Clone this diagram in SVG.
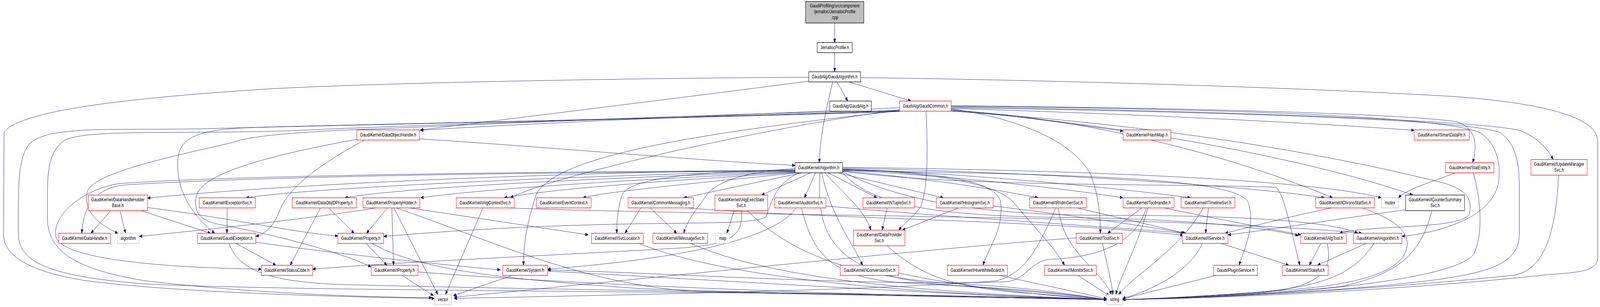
<svg xmlns="http://www.w3.org/2000/svg" width="5492" height="787" viewBox="0 0 5492 787" preserveAspectRatio="none">
<defs>
<marker id="ah" markerWidth="10" markerHeight="8" refX="10" refY="4" orient="auto" markerUnits="userSpaceOnUse">
<path d="M0,0 L10,4 L0,8 z" fill="#191970" stroke="#191970" stroke-width="1"/>
</marker>
<style>
svg{width:100vw;height:100vh}
rect{fill:#fff;stroke-width:1.3}
.r{stroke:#ff0000}
.k{stroke:#000}
.g{stroke:#bfbfbf}
.gf{fill:#bfbfbf;stroke:#000}
text{font-family:"Liberation Sans",Arial,Helvetica,sans-serif;font-size:13px;text-anchor:middle;fill:#000}
#edges path{fill:none;stroke:#191970;stroke-width:1;marker-end:url(#ah)}
</style>
</defs>
<rect x="0" y="0" width="5492" height="787" style="fill:#fff;stroke:none"/>
<g id="edges">
<path d="M2865,59 L2865,109"/>
<path d="M2865,135 L2865,184"/>
<path d="M2873,210 L2910,259"/>
<path d="M2914,210 L3127,259"/>
<path d="M2858,210 C2838,275 2816,340 2812,417"/>
<path d="M2776,198 C2200,200 1300,212 920,228 C500,248 60,280 14,340 L12,600 C10,660 120,700 300,720 C600,750 1200,762 1491,765"/>
<path d="M2954,199 C3600,205 4500,225 5000,248 C5300,265 5480,300 5484,360 L5484,660 C5484,700 5400,698 5300,705 C5000,730 4400,762 3853,768"/>
<path d="M2776,208 C2400,245 1800,300 1443,333"/>
<path d="M3088,276 C2700,290 1900,312 1443,334"/>
<path d="M3265,281 C3500,298 3700,320 3855,336"/>
<path d="M3265,278 C3800,290 4400,310 4854,334"/>
<path d="M3265,271 C4000,276 4800,290 5000,312 C5075,330 5068,380 5055,417"/>
<path d="M3265,274 C4200,284 5100,310 5220,335 C5280,355 5312,380 5331,409"/>
<path d="M3265,284 C3900,320 4550,420 4849,500"/>
<path d="M3265,283 C3700,300 4200,390 4574,507"/>
<path d="M3179,285 C3185,400 3185,480 3160,530 C3130,560 3100,575 3085,590"/>
<path d="M3265,279 C3550,310 3700,380 3745,450 C3770,500 3777,550 3777,598"/>
<path d="M3088,281 C2600,330 1900,450 1752,507"/>
<path d="M3088,284 C2400,300 1600,315 1000,335 C600,345 300,330 220,360 C170,390 163,430 163,500 L163,560 C163,640 250,690 500,720 C900,755 1300,762 1482,763"/>
<path d="M3088,286 C2300,305 1200,320 700,330 C400,335 160,320 100,370 C68,400 63,450 63,550 L63,600 C63,680 200,710 500,728 C1000,745 2000,745 3000,755 C3400,760 3700,766 3799,768"/>
<path d="M3088,283 C2400,292 1700,318 1300,330 C1000,338 850,350 800,365 C600,400 330,440 300,490 C285,530 320,570 405,598"/>
<path d="M3088,285 C2200,305 1300,318 900,326 C700,330 625,345 612,400 C600,470 640,540 737,598"/>
<path d="M3088,284 C2400,340 1900,400 1840,500 C1810,570 1797,620 1797,680"/>
<path d="M3265,285 C4200,330 4800,440 4960,470 C5040,490 5050,510 5045,545 C5035,590 4700,575 4598,598"/>
<path d="M3265,272 C4300,280 4950,300 5080,340 C5140,370 5150,420 5145,460 C5135,540 5000,590 4812,606"/>
<path d="M3265,276 C4400,290 5050,310 5150,340 C5205,370 5215,420 5215,480 L5215,600 C5215,680 5100,700 4900,720 C4500,755 4000,766 3853,768"/>
<path d="M2729,436 C2000,440 1000,470 506,508"/>
<path d="M2729,438 C2100,448 1100,478 845,507"/>
<path d="M2730,440 C2200,452 1400,478 1184,507"/>
<path d="M2731,441 C2300,456 1700,480 1444,507"/>
<path d="M2740,442 C2400,458 1900,482 1731,507"/>
<path d="M2750,442 C2500,462 2100,488 2001,507"/>
<path d="M2760,442 L2347,507"/>
<path d="M2785,442 L2614,500"/>
<path d="M2800,442 L2761,507"/>
<path d="M2840,442 L3010,507"/>
<path d="M2870,442 L3238,507"/>
<path d="M2892,438 C3200,458 3450,490 3563,507"/>
<path d="M2892,436 C3300,452 3700,488 3854,507"/>
<path d="M2892,433 C3400,448 3900,488 4086,507"/>
<path d="M2892,431 C3600,442 4300,478 4546,507"/>
<path d="M2892,429 C3700,436 4500,460 4741,507"/>
<path d="M2830,442 C2900,500 2970,540 2989,590"/>
<path d="M2820,442 C2855,560 2925,620 2961,680"/>
<path d="M2815,442 C2800,600 2850,715 3300,733 C3600,745 3750,764 3799,768"/>
<path d="M2729,435 C2400,440 2160,455 2135,500 C2122,530 2117,560 2117,598"/>
<path d="M2729,432 C2560,440 2460,465 2425,500 C2400,530 2360,560 2347,598"/>
<path d="M2892,442 C3000,540 3300,555 3700,558 C4100,562 4350,585 4456,604"/>
<path d="M2892,440 C3100,520 3400,552 3800,552 C4300,552 4580,570 4661,598"/>
<path d="M2892,439 C3300,480 4000,470 4380,480 C4410,500 4430,590 4462,680"/>
<path d="M2745,442 C2660,470 2648,520 2630,555 C2600,575 2400,570 2100,575 C1700,582 1450,598 1317,606"/>
<path d="M2729,439 C1800,442 900,452 430,474 C340,480 285,520 281,598"/>
<path d="M2729,437 C1800,440 800,450 420,470 C330,475 190,530 190,600 C190,660 500,685 897,690"/>
<path d="M2892,435 C3200,440 3425,460 3435,520 C3445,590 3390,640 3374,680"/>
<path d="M2892,434 C3250,442 3440,480 3480,520 C3560,590 3625,640 3654,680"/>
<path d="M2892,437 C3700,448 4250,455 4285,520 C4310,580 4270,640 4253,680"/>
<path d="M380,540 L312,598"/>
<path d="M412,540 L431,598"/>
<path d="M484,540 L723,598"/>
<path d="M506,532 C800,560 1000,595 1160,605"/>
<path d="M780,533 L779,598"/>
<path d="M1128,533 L1216,598"/>
<path d="M1100,533 L996,680"/>
<path d="M1330,533 L1258,598"/>
<path d="M1345,533 L1351,680"/>
<path d="M1352,533 L1503,755"/>
<path d="M1360,533 C1700,620 2000,730 2400,748 C3000,758 3600,765 3799,768"/>
<path d="M1405,533 L2019,602"/>
<path d="M1290,533 C1200,545 900,575 478,606"/>
<path d="M1658,533 L1529,755"/>
<path d="M1745,533 C2500,555 4000,550 4675,598"/>
<path d="M2232,533 L2323,598"/>
<path d="M2200,533 L2145,598"/>
<path d="M2357,533 C2800,560 3600,565 4061,603"/>
<path d="M2520,540 L2495,598"/>
<path d="M2565,540 C2700,640 2900,712 3300,728 C3600,740 3750,764 3799,768"/>
<path d="M2545,540 C2550,600 2520,625 2350,635 C1900,655 1400,670 1073,690"/>
<path d="M2733,533 C2650,620 2300,665 1880,690"/>
<path d="M2751,533 C2790,650 2850,712 3100,725 C3500,740 3750,764 3799,768"/>
<path d="M2835,528 C3300,560 3800,580 4065,598"/>
<path d="M3045,533 L3028,590"/>
<path d="M3290,533 L3097,590"/>
<path d="M3409,528 C3700,555 3900,575 4066,598"/>
<path d="M3697,533 L4070,598"/>
<path d="M3633,533 C3650,650 3780,690 3815,755"/>
<path d="M3624,533 C3560,640 3520,700 3420,720 C3000,745 2000,758 1559,765"/>
<path d="M3920,533 L3802,598"/>
<path d="M3940,533 C3900,640 3850,700 3830,755"/>
<path d="M3995,533 C4200,565 4350,585 4465,602"/>
<path d="M3935,533 C3900,620 3780,660 3600,665 C3540,670 3520,715 3460,722 C3000,735 2300,700 1880,692"/>
<path d="M4148,533 L4138,598"/>
<path d="M4130,533 C4050,640 3900,700 3840,755"/>
<path d="M4570,533 C4400,560 4300,580 4205,598"/>
<path d="M4675,533 C4780,560 4835,590 4830,630 C4820,690 4700,720 4500,738 C4200,758 4000,766 3853,768"/>
<path d="M4825,538 C4600,560 4400,585 4215,602"/>
<path d="M4915,540 C4880,640 4820,700 4600,735 C4300,758 4000,766 3853,768"/>
<path d="M4535,623 L4494,680"/>
<path d="M4555,623 C4580,700 4520,740 4300,752 C4100,762 3950,766 3853,768"/>
<path d="M4692,623 L4522,680"/>
<path d="M4717,623 C4650,700 4550,735 4300,750 C4100,760 3950,766 3853,768"/>
<path d="M4187,623 L4424,680"/>
<path d="M4128,623 C4080,700 3950,745 3853,765"/>
<path d="M3784,623 C3800,680 3815,720 3820,755"/>
<path d="M3694,610 C3300,630 2400,700 1559,762"/>
<path d="M2368,623 C2600,700 3000,745 3799,768"/>
<path d="M2190,623 C2500,720 3200,755 3799,768"/>
<path d="M3045,630 C3150,700 3250,735 3500,750 C3650,758 3750,766 3799,768"/>
<path d="M3085,700 C3300,735 3600,760 3799,768"/>
<path d="M3430,706 L3799,766"/>
<path d="M3700,706 L3808,758"/>
<path d="M4175,706 L3853,766"/>
<path d="M1255,623 L1328,680"/>
<path d="M1275,623 C1450,700 1800,718 2200,740 C2800,755 3500,764 3799,768"/>
<path d="M1380,706 L1488,758"/>
<path d="M1435,697 C1800,720 2700,755 3799,768"/>
<path d="M808,623 L947,680"/>
<path d="M870,620 C1100,645 1400,670 1717,692"/>
<path d="M786,623 C820,700 950,725 1200,730 C2000,745 3300,755 3799,768"/>
<path d="M1758,706 L1556,758"/>
<path d="M1880,695 C2500,720 3300,758 3799,768"/>
<path d="M5350,449 C5340,600 5300,690 5200,705 C4900,730 4300,762 3853,768"/>
<path d="M5000,442 C4900,470 4830,485 4800,507"/>
<path d="M5057,442 C5085,520 5090,600 5060,650 C5000,720 4400,760 3853,768"/>
<path d="M1440,356 C1900,378 2400,412 2729,424"/>
<path d="M1225,357 C950,395 700,440 675,500 C660,545 690,565 750,575 C900,595 1150,640 1274,684"/>
<path d="M1251,359 C1100,420 990,480 960,540 C940,580 910,600 878,606"/>
</g>
<g id="n_cpp"><rect class="gf" x="2765" y="4" width="200" height="55"/><text x="2865" y="19">GaudiProfiling/src/component</text><text x="2865" y="34">/jemalloc/JemallocProfile</text><text x="2865" y="49">.cpp</text></g>
<g id="n_jh"><rect class="k" x="2805" y="109" width="120" height="26"/><text x="2865" y="126.5">JemallocProfile.h</text></g>
<g id="n_galgo"><rect class="k" x="2776" y="184" width="178" height="26"/><text x="2865" y="201.5">GaudiAlg/GaudiAlgorithm.h</text></g>
<g id="n_galg"><rect class="k" x="2848" y="259" width="143" height="26"/><text x="2919.5" y="276.5">GaudiAlg/GaudiAlg.h</text></g>
<g id="n_gcom"><rect class="r" x="3088" y="259" width="177" height="26"/><text x="3176.5" y="276.5">GaudiAlg/GaudiCommon.h</text></g>
<g id="n_doh"><rect class="r" x="1225" y="333" width="215" height="26"/><text x="1332.5" y="350.5">GaudiKernel/DataObjectHandle.h</text></g>
<g id="n_hash"><rect class="r" x="3855" y="333" width="164" height="26"/><text x="3937" y="350.5">GaudiKernel/HashMap.h</text></g>
<g id="n_sdp"><rect class="r" x="4854" y="333" width="189" height="26"/><text x="4948.5" y="350.5">GaudiKernel/SmartDataPtr.h</text></g>
<g id="n_algo"><rect class="k" x="2729" y="417" width="163" height="26"/><text x="2810.5" y="434.5">GaudiKernel/Algorithm.h</text></g>
<g id="n_stat"><rect class="r" x="4962" y="417" width="166" height="26"/><text x="5045" y="434.5">GaudiKernel/StatEntity.h</text></g>
<g id="n_ums"><rect class="r" x="5255" y="409" width="193" height="40"/><text x="5351.5" y="425.5">GaudiKernel/IUpdateManager</text><text x="5351.5" y="440.5">Svc.h</text></g>
<g id="n_dhhb"><rect class="r" x="303" y="500" width="203" height="40"/><text x="404.5" y="516.5">GaudiKernel/DataHandleHolder</text><text x="404.5" y="531.5">Base.h</text></g>
<g id="n_iexc"><rect class="r" x="684" y="507" width="193" height="26"/><text x="780.5" y="524.5">GaudiKernel/IExceptionSvc.h</text></g>
<g id="n_doip"><rect class="r" x="1003" y="507" width="220" height="26"/><text x="1113" y="524.5">GaudiKernel/DataObjIDProperty.h</text></g>
<g id="n_ph"><rect class="r" x="1246" y="507" width="195" height="26"/><text x="1343.5" y="524.5">GaudiKernel/PropertyHolder.h</text></g>
<g id="n_iacs"><rect class="r" x="1566" y="507" width="199" height="26"/><text x="1665.5" y="524.5">GaudiKernel/IAlgContextSvc.h</text></g>
<g id="n_ec"><rect class="r" x="1841" y="507" width="188" height="26"/><text x="1935" y="524.5">GaudiKernel/EventContext.h</text></g>
<g id="n_cm"><rect class="r" x="2156" y="507" width="224" height="26"/><text x="2268" y="524.5">GaudiKernel/CommonMessaging.h</text></g>
<g id="n_iaes"><rect class="r" x="2454" y="500" width="181" height="40"/><text x="2544.5" y="516.5">GaudiKernel/IAlgExecState</text><text x="2544.5" y="531.5">Svc.h</text></g>
<g id="n_iaud"><rect class="r" x="2659" y="507" width="176" height="26"/><text x="2747" y="524.5">GaudiKernel/IAuditorSvc.h</text></g>
<g id="n_int"><rect class="r" x="2962" y="507" width="177" height="26"/><text x="3050.5" y="524.5">GaudiKernel/INTupleSvc.h</text></g>
<g id="n_ihist"><rect class="r" x="3214" y="507" width="195" height="26"/><text x="3311.5" y="524.5">GaudiKernel/IHistogramSvc.h</text></g>
<g id="n_irndm"><rect class="r" x="3534" y="507" width="195" height="26"/><text x="3631.5" y="524.5">GaudiKernel/IRndmGenSvc.h</text></g>
<g id="n_th"><rect class="r" x="3855" y="507" width="175" height="26"/><text x="3942.5" y="524.5">GaudiKernel/ToolHandle.h</text></g>
<g id="n_itl"><rect class="r" x="4054" y="507" width="185" height="26"/><text x="4146.5" y="524.5">GaudiKernel/ITimelineSvc.h</text></g>
<g id="n_ics"><rect class="r" x="4516" y="507" width="202" height="26"/><text x="4617" y="524.5">GaudiKernel/IChronoStatSvc.h</text></g>
<g id="n_mutex"><rect class="g" x="4742" y="507" width="59" height="26"/><text x="4771.5" y="524.5">mutex</text></g>
<g id="n_icss"><rect class="k" x="4825" y="500" width="202" height="40"/><text x="4926" y="516.5">GaudiKernel/ICounterSummary</text><text x="4926" y="531.5">Svc.h</text></g>
<g id="n_dh"><rect class="r" x="202" y="598" width="177" height="26"/><text x="290.5" y="615.5">GaudiKernel/DataHandle.h</text></g>
<g id="n_alg"><rect class="g" x="403" y="598" width="75" height="26"/><text x="440.5" y="615.5">algorithm</text></g>
<g id="n_ge"><rect class="r" x="678" y="598" width="200" height="26"/><text x="778" y="615.5">GaudiKernel/GaudiException.h</text></g>
<g id="n_prop"><rect class="r" x="1160" y="598" width="157" height="26"/><text x="1238.5" y="615.5">GaudiKernel/Property.h</text></g>
<g id="n_isl"><rect class="r" x="2030" y="598" width="178" height="26"/><text x="2119" y="615.5">GaudiKernel/ISvcLocator.h</text></g>
<g id="n_ims"><rect class="r" x="2241" y="598" width="188" height="26"/><text x="2335" y="615.5">GaudiKernel/IMessageSvc.h</text></g>
<g id="n_map"><rect class="g" x="2457" y="598" width="47" height="26"/><text x="2480.5" y="615.5">map</text></g>
<g id="n_idp"><rect class="r" x="2930" y="590" width="176" height="40"/><text x="3018" y="606.5">GaudiKernel/IDataProvider</text><text x="3018" y="621.5">Svc.h</text></g>
<g id="n_its"><rect class="r" x="3694" y="598" width="159" height="26"/><text x="3773.5" y="615.5">GaudiKernel/IToolSvc.h</text></g>
<g id="n_is"><rect class="r" x="4058" y="598" width="157" height="26"/><text x="4136.5" y="615.5">GaudiKernel/IService.h</text></g>
<g id="n_iat"><rect class="r" x="4465" y="598" width="156" height="26"/><text x="4543" y="615.5">GaudiKernel/IAlgTool.h</text></g>
<g id="n_ia"><rect class="r" x="4646" y="598" width="166" height="26"/><text x="4729" y="615.5">GaudiKernel/IAlgorithm.h</text></g>
<g id="n_sc"><rect class="r" x="897" y="680" width="176" height="26"/><text x="985" y="697.5">GaudiKernel/StatusCode.h</text></g>
<g id="n_ip"><rect class="r" x="1274" y="680" width="161" height="26"/><text x="1354.5" y="697.5">GaudiKernel/IProperty.h</text></g>
<g id="n_sys"><rect class="r" x="1726" y="680" width="154" height="26"/><text x="1803" y="697.5">GaudiKernel/System.h</text></g>
<g id="n_icnv"><rect class="r" x="2884" y="680" width="201" height="26"/><text x="2984.5" y="697.5">GaudiKernel/IConversionSvc.h</text></g>
<g id="n_ihwb"><rect class="r" x="3252" y="680" width="206" height="26"/><text x="3355" y="697.5">GaudiKernel/IHiveWhiteBoard.h</text></g>
<g id="n_imon"><rect class="r" x="3585" y="680" width="178" height="26"/><text x="3674" y="697.5">GaudiKernel/IMonitorSvc.h</text></g>
<g id="n_ps"><rect class="r" x="4166" y="680" width="150" height="26"/><text x="4241" y="697.5">Gaudi/PluginService.h</text></g>
<g id="n_ist"><rect class="r" x="4402" y="680" width="157" height="26"/><text x="4480.5" y="697.5">GaudiKernel/IStateful.h</text></g>
<g id="n_vec"><rect class="g" x="1491" y="755" width="59" height="26"/><text x="1520.5" y="772.5">vector</text></g>
<g id="n_str"><rect class="g" x="3799" y="755" width="54" height="26"/><text x="3826" y="772.5">string</text></g>
</svg>
